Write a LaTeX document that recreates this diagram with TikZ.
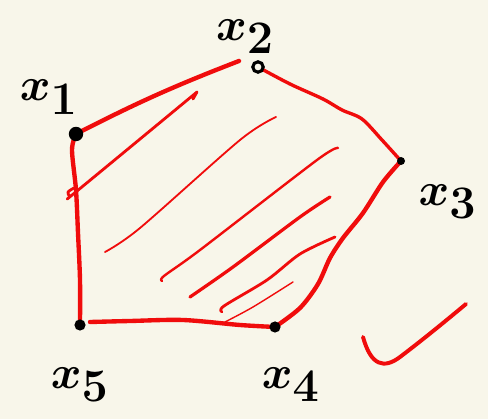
\documentclass[tikz,border=0pt]{standalone}
\usepackage{amsmath}
\usepackage{xcolor}
\usetikzlibrary{positioning,backgrounds}
\definecolor{paper}{RGB}{248,246,234}
\definecolor{ink}{RGB}{240,12,12}

\begin{document}
\begin{tikzpicture}[x=0.025cm, y=-0.025cm,
    vertex/.style={circle, fill=black, inner sep=0pt, minimum size=0.28cm},
    hollow/.style={circle, draw=black, line width=2.2pt, fill=paper, inner sep=0pt, minimum size=0.26cm},
    tag/.style={font=\huge\boldmath, scale=1.6, inner sep=1pt},
    side/.style={draw=ink, line width=3.1pt, line cap=round, line join=round},
    hatch/.style={draw=ink, line width=1.4pt, line cap=round, line join=round}]

    \node [vertex, minimum size=0.36cm] (x1) at (76,134) {};
    \node [hollow] (x2) at (258,67) {};
    \node [vertex, minimum size=0.2cm] (x3) at (401,161) {};
    \node [vertex] (x4) at (275,327) {};
    \node [vertex] (x5) at (80,325) {};
    \coordinate (x12) at (239,61);

    \node [tag, above left=0.3cm and -0.25cm of x1] (l1) {$x_{\textstyle 1}$};
    \node [tag, above=0.1cm of x2, xshift=-0.2cm] (l2) {$x_{\textstyle 2}$};
    \node [tag, below right=0.45cm and 0.3cm of x3] (l3) {$x_{\textstyle 3}$};
    \node [tag, below=0.8cm of x4, xshift=0.25cm] (l4) {$x_{\textstyle 4}$};
    \node [tag, below=0.85cm of x5] (l5) {$x_{\textstyle 5}$};

    % sides of the pentagon, under the vertices
    \begin{pgfonlayer}{background}
    \fill[paper] (0,0) rectangle (488,419);
    \draw [side] (x1.center) to[bend left=3] (x12);
    \draw [side, line width=2.4pt] plot[smooth, tension=0.5] coordinates
        {(x2.center) (290,84) (323,99) (342,110) (362,119) (382,140) (x3.center)};
    \draw [side] plot[smooth, tension=0.5] coordinates
        {(x3.center) (383,182) (363,213) (343,238) (330,258) (318,284) (300,308) (x4.center)};
    \draw [side] plot[smooth, tension=0.5] coordinates
        {(x4.center) (240,325) (183,320) (130,321) (90,322)};
    \draw [side] plot[smooth, tension=0.5] coordinates
        {(x5.center) (80,280) (78,233) (76,190) (72,150) (x1.center)};
    \end{pgfonlayer}
    \useasboundingbox (0,0) rectangle (488,419);

    % hatching
    \draw [hatch, line width=2pt] plot[smooth, tension=0.5] coordinates
        {(74,188) (68,192) (70,196) (77,191) (197,92)} -- (193,99);
    \draw [hatch, line width=1.3pt] plot[smooth, tension=0.5] coordinates
        {(105,252) (140,228) (240,140) (276,117)};
    \draw [hatch, line width=1.7pt] plot[smooth, tension=0.5] coordinates
        {(162,281) (164,276) (200,250) (317,160) (338,148)};
    \draw [hatch, line width=2.3pt] plot[smooth, tension=0.5] coordinates
        {(190,297) (233,267) (300,217) (330,197)};
    \draw [hatch, line width=2pt] plot[smooth, tension=0.5] coordinates
        {(222,312) (224,306) (267,280) (300,254) (335,237)};
    \draw [hatch, line width=1pt] plot[smooth, tension=0.5] coordinates
        {(225,322) (253,307) (293,282)};

    % check mark
    \draw [ink, line width=2.8pt, line cap=round] (363,337)
        .. controls (371,366) and (384,369) .. (400,357)
        .. controls (425,338) and (448,319) .. (466,304);
\end{tikzpicture}
\end{document}
